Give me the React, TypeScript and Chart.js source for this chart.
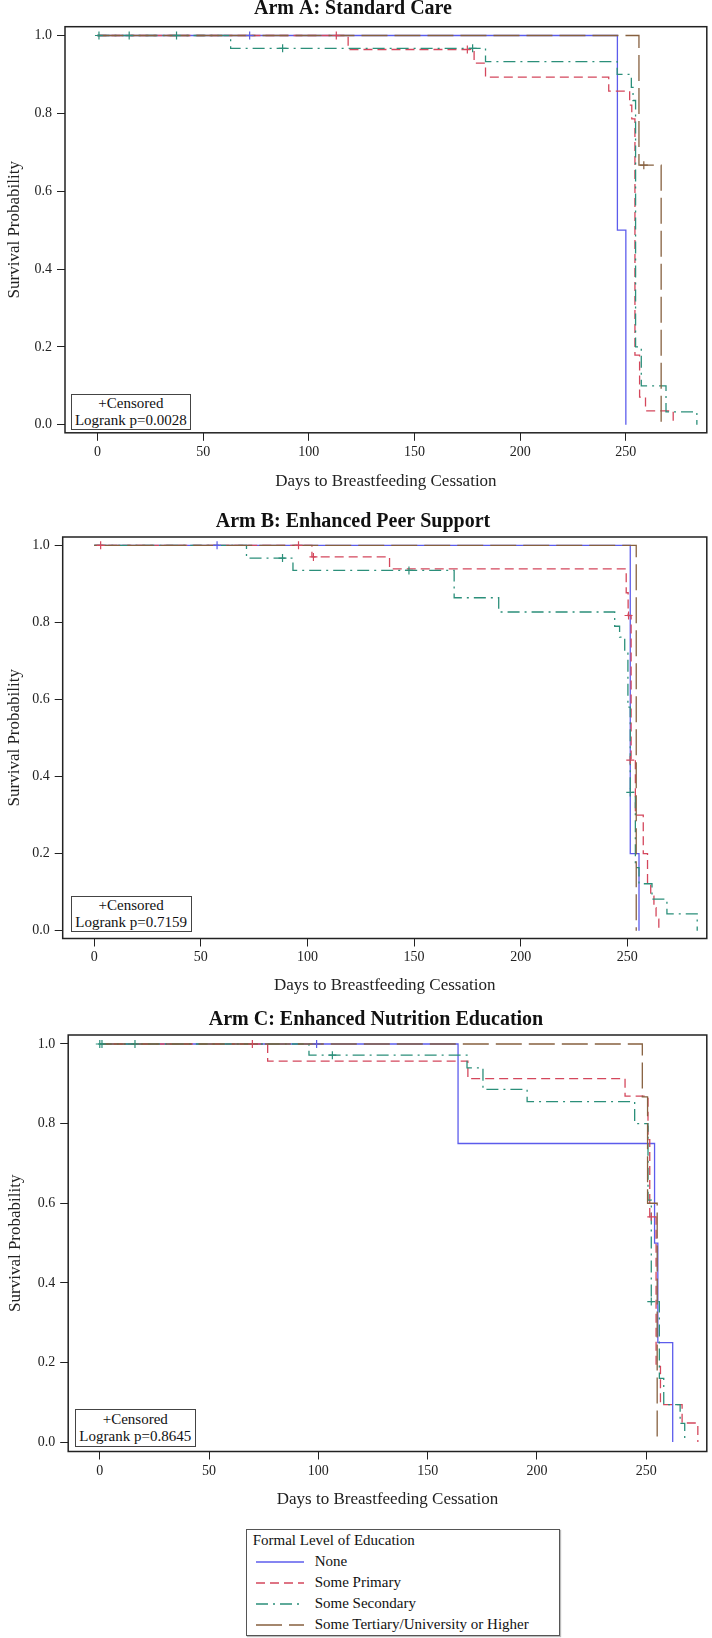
import React, { useEffect, useRef } from "react";
import { Chart, registerables } from "chart.js";

Chart.register(...registerables);

const FONT = "'Liberation Serif', 'Times New Roman', serif";

const xTickValues = [0, 50, 100, 150, 200, 250];
const yTickValues = [0, 0.2, 0.4, 0.6, 0.8, 1.0];
const groupNames = ["None", "Some Primary", "Some Secondary", "Some Tertiary/University or Higher"];
const groupColors = ["#5c5cec", "#d4475c", "#2b8f7a", "#86603f"];
const groupDashes = [[], [9, 5], [12, 5, 2, 5], [26, 7]];

// ---- Arm A: Standard Care ----
const aNoneTime = [0, 246, 250];
const aNoneSurv = [1, 0.5, 0];
const aNoneCensTime = [72];
const aNoneCensSurv = [1];
const aPrimTime = [0, 118.6, 178.2, 183.6, 241.9, 251.8, 252.8, 254.3, 256.5, 259.3, 272.4];
const aPrimSurv = [1, 0.964, 0.929, 0.893, 0.857, 0.821, 0.786, 0.179, 0.071, 0.036, 0];
const aPrimCensTime = [113, 175];
const aPrimCensSurv = [1, 0.964];
const aSecTime = [0, 63, 183.6, 245.9, 252.6, 253.4, 254.6, 257.3, 269, 283.6];
const aSecSurv = [1, 0.967, 0.933, 0.9, 0.867, 0.833, 0.2, 0.1, 0.033, 0];
const aSecCensTime = [0.7, 15, 37.4, 87.6, 177.5];
const aSecCensSurv = [1, 1, 1, 0.967, 0.967];
const aTertTime = [0, 256.2, 266.7];
const aTertSurv = [1, 0.667, 0];
const aTertCensTime = [258.5];
const aTertCensSurv = [0.667];

// ---- Arm B: Enhanced Peer Support ----
const bNoneTime = [0, 251.4, 255.5];
const bNoneSurv = [1, 0.2, 0];
const bNoneCensTime = [57.6];
const bNoneCensSurv = [1];
const bPrimTime = [0, 102.1, 138.5, 249.5, 250.4, 251.8, 253.8, 257.5, 259.5, 261, 262.5, 263.5, 264.8];
const bPrimSurv = [1, 0.97, 0.939, 0.877, 0.818, 0.443, 0.3, 0.2, 0.12, 0.09, 0.06, 0.03, 0];
const bPrimCensTime = [3, 95.8, 102.8, 250.6, 251.4];
const bPrimCensSurv = [1, 1, 0.97, 0.818, 0.443];
const bSecTime = [0, 71.4, 93.2, 168.8, 189.7, 244.1, 246.4, 248.8, 250.3, 251.4, 253.8, 255.5, 261.6, 268.6, 282.8];
const bSecSurv = [1, 0.967, 0.935, 0.864, 0.827, 0.79, 0.762, 0.72, 0.58, 0.359, 0.164, 0.122, 0.082, 0.044, 0];
const bSecCensTime = [88.3, 147.6, 251.4];
const bSecCensSurv = [0.967, 0.935, 0.359];
const bTertTime = [0, 254.2];
const bTertSurv = [1, 0];
const bTertCensTime: number[] = [];
const bTertCensSurv: number[] = [];

// ---- Arm C: Enhanced Nutrition Education ----
const cNoneTime = [0, 163.9, 253.8, 255.3, 262.1];
const cNoneSurv = [1, 0.75, 0.5, 0.25, 0];
const cNoneCensTime = [99.2];
const cNoneCensSurv = [1];
const cPrimTime = [0, 76.8, 168.4, 240.3, 250.8, 251.6, 254.5, 256.5, 266.4, 273.6];
const cPrimSurv = [1, 0.957, 0.913, 0.869, 0.76, 0.566, 0.19, 0.094, 0.048, 0];
const cPrimCensTime = [69.8, 252.3];
const cPrimCensSurv = [1, 0.566];
const cSecTime = [0, 95.7, 168, 175.3, 195.5, 244.7, 250.8, 252.3, 256, 258, 265.5, 267.6];
const cSecSurv = [1, 0.972, 0.94, 0.886, 0.855, 0.8, 0.608, 0.353, 0.16, 0.094, 0.047, 0];
const cSecCensTime = [0, 1, 16.1, 106.4, 252.3];
const cSecCensSurv = [1, 1, 1, 0.972, 0.353];
const cTertTime = [0, 248.2, 250.6, 255];
const cTertSurv = [1, 0.867, 0.6, 0];
const cTertCensTime: number[] = [];
const cTertCensSurv: number[] = [];

type Curve = { t: number[]; s: number[]; ct: number[]; cs: number[] };

type PanelSpec = {
  title: string;
  logrank: string;
  curves: Curve[];
  titleY: number;
  titleX: number;
  top: number;
  bottom: number;
  left: number;
  tickLabelY: number;
  xTitleY: number;
  yTitleX: number;
  xMin: number;
  xMax: number;
  yMin: number;
  yMax: number;
  box: { left: number; top: number; width: number; height: number };
};

const panels: PanelSpec[] = [
  {
    title: "Arm A: Standard Care",
    logrank: "Logrank p=0.0028",
    curves: [
      { t: aNoneTime, s: aNoneSurv, ct: aNoneCensTime, cs: aNoneCensSurv },
      { t: aPrimTime, s: aPrimSurv, ct: aPrimCensTime, cs: aPrimCensSurv },
      { t: aSecTime, s: aSecSurv, ct: aSecCensTime, cs: aSecCensSurv },
      { t: aTertTime, s: aTertSurv, ct: aTertCensTime, cs: aTertCensSurv },
    ],
    titleY: 9, titleX: 353, top: 26.7, bottom: 433, left: 65,
    tickLabelY: 453, xTitleY: 482, yTitleX: 15,
    xMin: -15.37, xMax: 288.3, yMin: -0.0205, yMax: 1.0226,
    box: { left: 70.7, top: 393.7, width: 120.3, height: 36.3 },
  },
  {
    title: "Arm B: Enhanced Peer Support",
    logrank: "Logrank p=0.7159",
    curves: [
      { t: bNoneTime, s: bNoneSurv, ct: bNoneCensTime, cs: bNoneCensSurv },
      { t: bPrimTime, s: bPrimSurv, ct: bPrimCensTime, cs: bPrimCensSurv },
      { t: bSecTime, s: bSecSurv, ct: bSecCensTime, cs: bSecCensSurv },
      { t: bTertTime, s: bTertSurv, ct: bTertCensTime, cs: bTertCensSurv },
    ],
    titleY: 521.7, titleX: 353, top: 536.7, bottom: 937.7, left: 62.7,
    tickLabelY: 956.7, xTitleY: 985, yTitleX: 15,
    xMin: -14.8, xMax: 287.3, yMin: -0.02, yMax: 1.0216,
    box: { left: 70.5, top: 896, width: 121.3, height: 35.7 },
  },
  {
    title: "Arm C: Enhanced Nutrition Education",
    logrank: "Logrank p=0.8645",
    curves: [
      { t: cNoneTime, s: cNoneSurv, ct: cNoneCensTime, cs: cNoneCensSurv },
      { t: cPrimTime, s: cPrimSurv, ct: cPrimCensTime, cs: cPrimCensSurv },
      { t: cSecTime, s: cSecSurv, ct: cSecCensTime, cs: cSecCensSurv },
      { t: cTertTime, s: cTertSurv, ct: cTertCensTime, cs: cTertCensSurv },
    ],
    titleY: 1020, titleX: 376, top: 1035, bottom: 1451.7, left: 68.2,
    tickLabelY: 1471.7, xTitleY: 1500, yTitleX: 16,
    xMin: -14.45, xMax: 277.7, yMin: -0.0236, yMax: 1.0226,
    box: { left: 75, top: 1409, width: 120.5, height: 38 },
  },
];

const TITLE_LH = 20;
const AXIS_TITLE_SIZE = 17;
const AXIS_TITLE_LH = AXIS_TITLE_SIZE * 1.2;
const TICK_SIZE = 14;
const TICK_LH = TICK_SIZE * 1.2;
const TICK_LEN = 8;
const RIGHT_PAD = 1;

function geometry(p: PanelSpec) {
  const canvasTop = p.titleY - TITLE_LH / 2;
  const canvasBottom = p.xTitleY + AXIS_TITLE_LH / 2 + 2;
  return {
    canvasTop,
    height: Math.round(canvasBottom - canvasTop),
    titlePadBottom: p.top - canvasTop - TITLE_LH,
    yWidth: p.left,
    yTitlePad: p.yTitleX - AXIS_TITLE_LH / 2,
    xHeight: canvasBottom - p.bottom,
    xTickPad: p.tickLabelY - p.bottom - TICK_LEN - TICK_LH / 2,
  };
}

const framePlugin = {
  id: "kmFrame",
  afterLayout(chart: any, _args: any, opts: any) {
    // centre the title block on the requested x position
    const tb = chart.titleBlock;
    if (tb && opts && typeof opts.titleX === "number") {
      const half = (tb.right - tb.left) / 2;
      tb.left = opts.titleX - half;
      tb.right = opts.titleX + half;
    }
  },
  afterDraw(chart: any) {
    const { ctx, chartArea: a } = chart;
    ctx.save();
    ctx.strokeStyle = "#222";
    ctx.lineWidth = 1.5;
    ctx.strokeRect(a.left, a.top, a.right - a.left, a.bottom - a.top);
    ctx.restore();
  },
};

function makeConfig(p: PanelSpec): any {
  const g = geometry(p);
  const datasets: any[] = [];
  p.curves.forEach((c, i) => {
    datasets.push({
      type: "line",
      label: groupNames[i],
      data: c.t.map((t, k) => ({ x: t, y: c.s[k] })),
      stepped: true,
      borderColor: groupColors[i],
      borderDash: groupDashes[i],
      borderWidth: 1.3,
      pointRadius: 0,
      fill: false,
      order: 3 - i,
    });
  });
  p.curves.forEach((c, i) => {
    datasets.push({
      type: "scatter",
      label: groupNames[i] + " censored",
      data: c.ct.map((t, k) => ({ x: t, y: c.cs[k] })),
      showLine: false,
      pointStyle: "cross",
      pointRadius: 4,
      borderColor: groupColors[i],
      backgroundColor: groupColors[i],
      borderWidth: 1.2,
      order: -1,
    });
  });
  const gridOpts = {
    display: true,
    drawOnChartArea: false,
    drawTicks: true,
    tickLength: TICK_LEN,
    color: "#222",
    lineWidth: 1,
  };
  return {
    data: { datasets },
    plugins: [framePlugin],
    options: {
      animation: false,
      responsive: false,
      devicePixelRatio: 1,
      events: [],
      layout: { padding: { left: 0, right: RIGHT_PAD, top: 0, bottom: 0 } },
      plugins: {
        kmFrame: { titleX: p.titleX },
        legend: { display: false },
        tooltip: { enabled: false },
        title: {
          display: true,
          text: p.title,
          color: "#111",
          font: { family: FONT, size: 20, weight: "bold", lineHeight: 1 },
          padding: { top: 0, bottom: g.titlePadBottom },
        },
      },
      scales: {
        x: {
          type: "linear",
          min: p.xMin,
          max: p.xMax,
          afterBuildTicks: (s: any) => {
            s.ticks = xTickValues.map((v) => ({ value: v }));
          },
          afterFit: (s: any) => {
            s.height = g.xHeight;
          },
          grid: gridOpts,
          border: { display: false },
          ticks: {
            padding: g.xTickPad,
            color: "#222",
            maxRotation: 0,
            autoSkip: false,
            font: { family: FONT, size: TICK_SIZE },
            callback: (v: any) => String(v),
          },
          title: {
            display: true,
            text: "Days to Breastfeeding Cessation",
            color: "#222",
            font: { family: FONT, size: AXIS_TITLE_SIZE },
            padding: { top: 0, bottom: 2 },
          },
        },
        y: {
          type: "linear",
          min: p.yMin,
          max: p.yMax,
          afterBuildTicks: (s: any) => {
            s.ticks = yTickValues.map((v) => ({ value: v }));
          },
          afterFit: (s: any) => {
            s.width = g.yWidth;
          },
          grid: gridOpts,
          border: { display: false },
          ticks: {
            padding: 5,
            color: "#222",
            font: { family: FONT, size: TICK_SIZE },
            callback: (v: any) => Number(v).toFixed(1),
          },
          title: {
            display: true,
            text: "Survival Probability",
            color: "#222",
            font: { family: FONT, size: AXIS_TITLE_SIZE },
            padding: { top: g.yTitlePad, bottom: 0 },
          },
        },
      },
    },
  };
}

function Panel({ p }: { p: PanelSpec }) {
  const ref = useRef<HTMLCanvasElement | null>(null);
  const g = geometry(p);
  useEffect(() => {
    if (!ref.current) return;
    const chart = new Chart(ref.current, makeConfig(p));
    return () => chart.destroy();
  }, [p]);
  return (
    <>
      <canvas
        ref={ref}
        width={712}
        height={g.height}
        style={{ position: "absolute", left: 0, top: g.canvasTop, width: 712, height: g.height }}
      />
      <div
        style={{
          position: "absolute",
          left: p.box.left,
          top: p.box.top,
          width: p.box.width,
          height: p.box.height,
          boxSizing: "border-box",
          border: "1px solid #444",
          background: "#fff",
          fontFamily: FONT,
          fontSize: 15,
          lineHeight: "17px",
          color: "#111",
          textAlign: "center",
          display: "flex",
          flexDirection: "column",
          justifyContent: "center",
        }}
      >
        <div>+Censored</div>
        <div>{p.logrank}</div>
      </div>
    </>
  );
}

function Legend() {
  return (
    <div
      style={{
        position: "absolute",
        left: 245.7,
        top: 1529,
        width: 314,
        height: 107,
        boxSizing: "border-box",
        border: "1px solid #555",
        boxShadow: "1px 1px 1px #bbb",
        fontFamily: FONT,
        fontSize: 15,
        color: "#111",
        paddingLeft: 6,
      }}
    >
      <div style={{ height: 21, lineHeight: "21px" }}>Formal Level of Education</div>
      {groupNames.map((name, i) => (
        <div key={name} style={{ height: 21, lineHeight: "21px", display: "flex", alignItems: "center" }}>
          <svg width={48} height={6} style={{ marginLeft: 3, marginRight: 11, flex: "none" }}>
            <line
              x1={0}
              y1={3}
              x2={48}
              y2={3}
              stroke={groupColors[i]}
              strokeWidth={1.5}
              strokeDasharray={groupDashes[i].length ? groupDashes[i].join(" ") : undefined}
            />
          </svg>
          <span style={{ whiteSpace: "nowrap" }}>{name}</span>
        </div>
      ))}
    </div>
  );
}

export default function App() {
  return (
    <div style={{ position: "absolute", left: 0, top: 0, width: 712, height: 1638, background: "#fff" }}>
      {panels.map((p) => (
        <Panel key={p.title} p={p} />
      ))}
      <Legend />
    </div>
  );
}
